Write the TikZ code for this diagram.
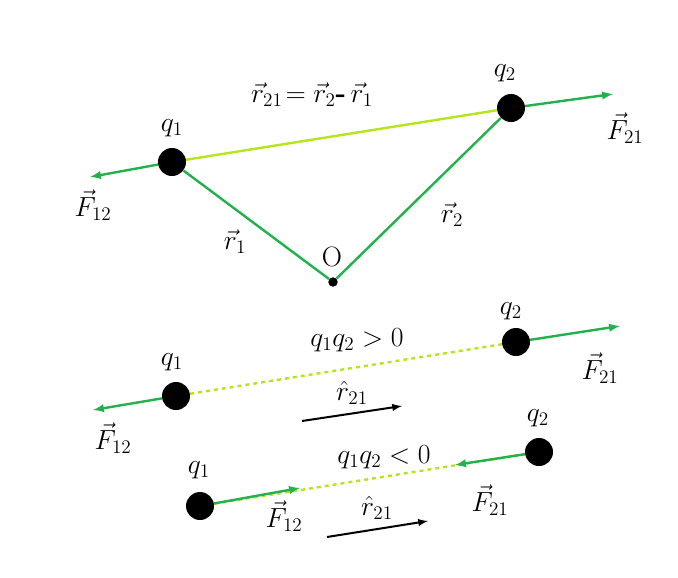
\documentclass[tikz,border=0pt]{standalone}
\usepackage{amsmath}
\usetikzlibrary{positioning}
\definecolor{fgreen}{RGB}{34,177,76}
\definecolor{lgreen}{RGB}{181,230,29}
\begin{document}
\begin{tikzpicture}[x=0.75pt,y=-0.75pt,font=\fontsize{21}{25}\selectfont, inner sep=1pt]
\tikzstyle{charge}=[circle, fill=black, minimum size=21pt, inner sep=0pt]
\tikzstyle{force}=[-latex, line width=1.8pt, fgreen]
\tikzstyle{link}=[line width=1.8pt, lgreen]
\tikzstyle{unit}=[-latex, line width=1.5pt, black]
\useasboundingbox (0,0) rectangle (678,578);
% top triangle
\node[charge] (q1) at (172,162) {};
\node[charge] (q2) at (511,108) {};
\node[circle, fill=black, inner sep=2.5pt] (o) at (333,282) {};
\coordinate (f12) at (90,177);
\coordinate (f21) at (613,94);
\draw[link] (q1) -- (q2);
\draw[line width=1.8pt, fgreen] (q1) -- (o) -- (q2);
\draw[force] (q1) -- (f12);
\draw[force] (q2) -- (f21);
\node (lq1) at (172,128) {$q_1$};
\node (lq2) at (505,73) {$q_2$};
\node (lf12) at (93,205) {$\vec{F}_{12}$};
\node (lf21) at (625,128) {$\vec{F}_{21}$};
\node (lr1) at (235,242) {$\vec{r}_1$};
\node (lr2) at (452,215) {$\vec{r}_2$};
\node (lo) at (332,257) {O};
\node (lr21) at (312,95) {$\vec{r}_{21}\!=\vec{r}_2\textbf{-}\,\vec{r}_1$};
% q1q2 > 0
\node[charge] (a1) at (176,396) {};
\node[charge] (a2) at (516,342) {};
\coordinate (af12) at (93,410);
\coordinate (af21) at (620,326);
\draw[link, dashed] (a1) -- (a2);
\draw[force] (a1) -- (af12);
\draw[force] (a2) -- (af21);
\node (la1) at (172,362) {$q_1$};
\node (la2) at (511,311) {$q_2$};
\node (lap) at (357,340) {$q_1q_2>0$};
\node (laf12) at (113,438) {$\vec{F}_{12}$};
\node (laf21) at (600,368) {$\vec{F}_{21}$};
\coordinate (au0) at (302,421);
\coordinate (au1) at (402,406);
\draw[unit] (au0) -- (au1);
\node (lau) at (352,393) {$\hat{r}_{21}$};
% q1q2 < 0
\node[charge] (b1) at (200,506) {};
\node[charge] (b2) at (539,452) {};
\coordinate (bf12) at (300,488);
\coordinate (bf21) at (455,465);
\draw[link, dashed] (b1) -- (b2);
\draw[force] (b1) -- (bf12);
\draw[force] (b2) -- (bf21);
\node (lb1) at (199,470) {$q_1$};
\node (lb2) at (538,418) {$q_2$};
\node (lbn) at (384,457) {$q_1q_2<0$};
\node (lbf12) at (284,516) {$\vec{F}_{12}$};
\node (lbf21) at (490,500) {$\vec{F}_{21}$};
\coordinate (bu0) at (327,537);
\coordinate (bu1) at (428,521);
\draw[unit] (bu0) -- (bu1);
\node (lbu) at (377,508) {$\hat{r}_{21}$};
\end{tikzpicture}
\end{document}
